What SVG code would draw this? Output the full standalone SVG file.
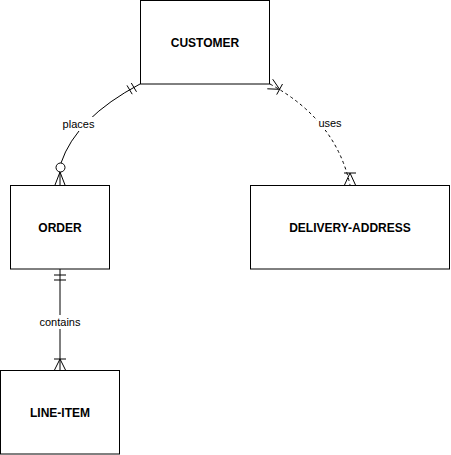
<svg xmlns="http://www.w3.org/2000/svg" width="451" height="455" viewBox="0 0 451 455">
<style>
.box{fill:#fff;stroke:#000;stroke-width:1}
.name{font-family:"Liberation Sans",Arial,sans-serif;font-size:12px;font-weight:bold;fill:#000;text-anchor:middle}
.lbl{font-family:"Liberation Sans",Arial,sans-serif;font-size:11px;fill:#000;text-anchor:middle}
.ln{fill:none;stroke:#000;stroke-width:1}
.dash{stroke-dasharray:3 3}
.lblbg{fill:#fff}
</style>
<rect width="451" height="455" fill="#fff"/>
<g id="edges">
  <g id="edge-places">
    <path class="ln" d="M140,84 Q76,118 61,163"/>
    <line class="ln" x1="131.3" y1="83" x2="136.5" y2="91.8"/>
    <line class="ln" x1="127" y1="85.4" x2="132.2" y2="94.2"/>
    <circle class="ln" cx="60.5" cy="167.5" r="4.5" fill="#fff"/>
    <path class="ln" d="M60,172 L55,185 M60,172 L60,185 M60,172 L65,185"/>
    <rect class="lblbg" x="62" y="117" width="34" height="14"/>
    <text class="lbl" x="78.5" y="128">places</text>
  </g>
  <g id="edge-uses">
    <path class="ln dash" d="M270,84 Q336,120 350,185"/>
    <path class="ln" d="M272.7,79.2 L279.6,89.3 L267.3,88.8"/>
    <line class="ln" x1="276.7" y1="94.6" x2="282.5" y2="84"/>
    <path class="ln" d="M355.5,185 L350,173 L344.5,185"/>
    <line class="ln" x1="344" y1="173" x2="356" y2="173"/>
    <rect class="lblbg" x="317" y="116" width="26" height="14"/>
    <text class="lbl" x="330" y="127">uses</text>
  </g>
  <g id="edge-contains">
    <line class="ln" x1="60" y1="269" x2="60" y2="370"/>
    <line class="ln" x1="54" y1="275" x2="66" y2="275"/>
    <line class="ln" x1="54" y1="280" x2="66" y2="280"/>
    <path class="ln" d="M54.5,370 L60,359 L65.5,370"/>
    <line class="ln" x1="54" y1="359" x2="66" y2="359"/>
    <rect class="lblbg" x="38" y="315" width="44" height="14"/>
    <text class="lbl" x="60" y="326">contains</text>
  </g>
</g>
<g id="customer">
  <rect class="box" x="140.5" y="0.5" width="129" height="83.5"/>
  <text class="name" x="205" y="47">CUSTOMER</text>
</g>
<g id="order">
  <rect class="box" x="10.5" y="185.5" width="99" height="83.5"/>
  <text class="name" x="60" y="232">ORDER</text>
</g>
<g id="delivery-address">
  <rect class="box" x="250.5" y="185.5" width="199" height="83.5"/>
  <text class="name" x="350" y="232">DELIVERY-ADDRESS</text>
</g>
<g id="line-item">
  <rect class="box" x="0.5" y="370.5" width="119" height="83.5"/>
  <text class="name" x="60" y="417">LINE-ITEM</text>
</g>
</svg>
